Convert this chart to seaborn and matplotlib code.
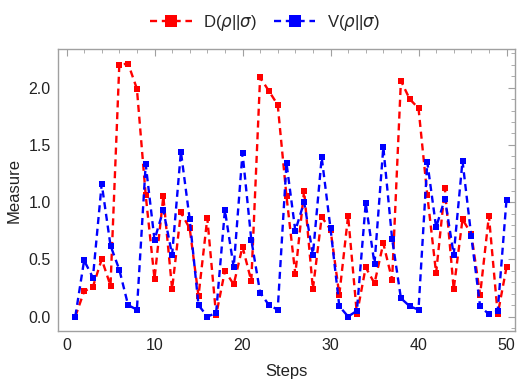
import numpy as np
import pandas as pd
import matplotlib
matplotlib.use("Agg")
import matplotlib.pyplot as plt
import seaborn as sns
from matplotlib.ticker import MultipleLocator

steps = list(range(1, 51))

d_values = [0.00, 0.22, 0.26, 0.50, 0.27, 2.20, 2.21, 1.99, 1.06, 0.33,
            1.05, 0.24, 0.91, 0.77, 0.18, 0.86, 0.01, 0.40, 0.28, 0.61,
            0.31, 2.09, 1.97, 1.85, 1.05, 0.37, 1.10, 0.24, 0.87, 0.76,
            0.19, 0.88, 0.02, 0.43, 0.29, 0.64, 0.32, 2.06, 1.90, 1.82,
            1.06, 0.38, 1.12, 0.24, 0.85, 0.72, 0.19, 0.88, 0.02, 0.43]

v_values = [0.00, 0.49, 0.34, 1.16, 0.62, 0.41, 0.10, 0.06, 1.33, 0.67,
            0.93, 0.54, 1.44, 0.85, 0.10, 0.00, 0.03, 0.93, 0.43, 1.43,
            0.67, 0.21, 0.10, 0.06, 1.34, 0.75, 1.00, 0.54, 1.39, 0.77,
            0.09, 0.00, 0.05, 0.99, 0.46, 1.48, 0.68, 0.16, 0.09, 0.06,
            1.35, 0.78, 1.03, 0.54, 1.36, 0.70, 0.09, 0.02, 0.05, 1.02]

series_names = ["D($\\rho$||$\\sigma$)", "V($\\rho$||$\\sigma$)"]
series_colors = ["#ff0000", "#0000ff"]

df = pd.DataFrame({
    "Steps": steps * 2,
    "Measure": d_values + v_values,
    "series": [series_names[0]] * len(steps) + [series_names[1]] * len(steps),
})

sns.set_style("white")
plt.rcParams["font.family"] = ["Liberation Sans", "DejaVu Sans"]
plt.rcParams["mathtext.fontset"] = "dejavusans"

fig = plt.figure(figsize=(5.18, 3.90), dpi=100)
ax = fig.add_axes([0.1114, 0.1508, 0.8834, 0.7228])

sns.lineplot(
    data=df, x="Steps", y="Measure", hue="series",
    palette=dict(zip(series_names, series_colors)),
    style="series", markers=["s", "s"], dashes=[(3, 2), (3, 2)],
    markersize=5, markeredgewidth=0, linewidth=1.7, ax=ax,
)

ax.set_xlim(-1.0, 51.0)
ax.set_ylim(-0.128, 2.335)
ax.xaxis.set_major_locator(MultipleLocator(10))
ax.xaxis.set_minor_locator(MultipleLocator(2))
ax.yaxis.set_major_locator(MultipleLocator(0.5))
ax.yaxis.set_minor_locator(MultipleLocator(0.1))
ax.yaxis.set_major_formatter(matplotlib.ticker.FormatStrFormatter("%.1f"))

frame_color = "#a0a0a0"
for sp in ax.spines.values():
    sp.set_color(frame_color)
    sp.set_linewidth(1.0)
ax.tick_params(which="both", direction="in", top=True, right=True,
               color=frame_color, labelsize=11.5, labelcolor="#222222")
ax.tick_params(which="major", length=5, width=0.8, pad=5)
ax.tick_params(which="minor", length=3, width=0.6)

ax.set_xlabel("Steps", fontsize=12, color="#222222", labelpad=8)
ax.set_ylabel("Measure", fontsize=12, color="#222222", labelpad=5)

handles, labels = ax.get_legend_handles_labels()
leg = ax.legend(handles, labels, loc="center", bbox_to_anchor=(0.453, 1.095),
                ncol=2, frameon=False, fontsize=12, handlelength=2.5,
                handletextpad=0.7, columnspacing=1.0)
for h in leg.legend_handles:
    h.set_markersize(8.5)

fig.savefig("out.png", dpi=100)
plt.close(fig)
